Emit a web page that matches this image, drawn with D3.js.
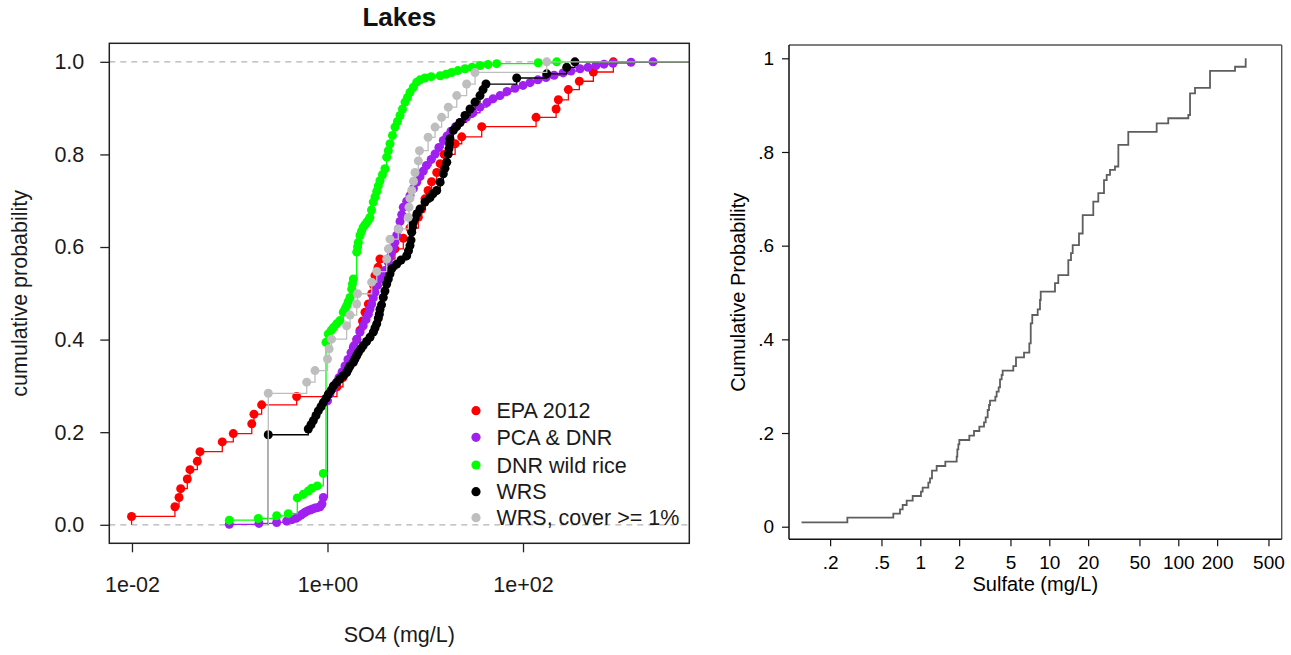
<!DOCTYPE html>
<html>
<head>
<meta charset="utf-8">
<script src="https://cdn.jsdelivr.net/npm/d3@7/dist/d3.min.js"></script>
<style>
  html, body { margin: 0; padding: 0; background: #fff; }
  svg { display: block; }
  text { font-family: "Liberation Sans", Arial, Helvetica, sans-serif; }
</style>
</head>
<body>
<svg id="chart" width="1291" height="655"></svg>
<script>
// ---------------- LEFT PANEL DATA (Lakes, SO4 mg/L, ECDF knots) ----------------
const seriesNames = ["EPA 2012", "PCA & DNR", "DNR wild rice", "WRS", "WRS, cover >= 1%"];
const seriesColors = ["#FF0000", "#A020F0", "#00FF00", "#000000", "#BEBEBE"];

const epaValues = [0.0099,0.0275,0.0303,0.0315,0.0368,0.0392,0.0466,0.0496,0.0839,0.1087,0.168,0.177,0.212,0.484,
  1.25,1.44,1.58,1.70,1.84,2.00,2.15,2.28,2.42,2.62,2.83,2.96,3.06,3.29,3.44,
  4.90,5.96,6.98,8.49,9.20,9.94,10.7,11.6,13.1,14.2,15.6,20.2,23.6,37.8,
  136,218,230,291,377,524,839];
const epaProb = [0.018,0.039,0.059,0.078,0.099,0.119,0.137,0.158,0.179,0.197,0.218,0.239,0.259,0.277,
  0.298,0.318,0.34,0.358,0.383,0.40,0.42,0.44,0.459,0.477,0.499,0.518,0.538,0.556,0.574,
  0.596,0.619,0.641,0.664,0.682,0.704,0.722,0.741,0.761,0.78,0.80,0.823,0.838,0.860,
  0.880,0.898,0.918,0.94,0.958,0.978,1.0];

const pcaValues = [0.099,0.199,0.302,0.382,0.433,0.476,0.503,0.536,0.562,0.589,0.624,0.662,0.702,0.745,0.790,0.838,0.878,0.906,
  1.00,1.06,1.14,1.22,1.31,1.41,1.51,1.62,1.74,1.87,1.99,2.15,2.32,2.48,2.62,2.72,2.83,2.94,3.06,3.25,3.44,3.65,3.87,
  4.19,4.36,4.54,4.71,4.90,5.10,5.30,5.52,5.74,5.96,6.46,6.98,7.55,8.18,8.84,9.55,10.3,11.5,12.6,13.8,15.3,16.7,18.3,
  20.4,22.7,26.4,30.8,36.3,42.8,49.3,58.2,68.6,82.8,100,118,142,172,208,257,310,383,462,558,674,833,1273,2138];
const pcaProb = [0.001,0.003,0.005,0.008,0.011,0.014,0.017,0.021,0.024,0.027,0.030,0.032,0.034,0.036,0.037,0.039,0.045,0.059,
  0.268,0.283,0.295,0.306,0.318,0.33,0.343,0.357,0.372,0.387,0.401,0.416,0.43,0.443,0.455,0.466,0.477,0.49,0.502,0.517,0.531,0.54,0.549,
  0.567,0.578,0.589,0.60,0.61,0.625,0.639,0.655,0.67,0.686,0.699,0.711,0.726,0.74,0.752,0.764,0.776,0.789,0.801,0.815,0.83,0.84,0.85,
  0.86,0.869,0.88,0.89,0.902,0.912,0.92,0.927,0.936,0.943,0.949,0.955,0.961,0.966,0.971,0.976,0.980,0.985,0.988,0.992,0.995,0.997,0.999,1.0];

const riceValues = [0.099,0.196,0.302,0.397,0.491,0.566,0.636,0.689,0.786,0.906,
  0.965,1.02,1.09,1.15,1.24,1.34,1.45,1.51,1.57,1.63,1.70,1.77,1.80,1.84,1.99,2.03,2.07,2.15,2.23,2.32,2.42,2.52,2.62,2.72,
  2.82,2.94,3.06,3.19,3.31,3.44,3.65,3.87,4.03,4.19,4.36,4.62,4.90,5.20,5.52,5.85,6.21,6.58,6.98,7.55,8.18,8.84,9.94,
  11.5,14.2,16.3,18.6,21.6,25.5,30.1,36.3,43.9,53.8,143,221];
const riceProb = [0.010,0.0136,0.0194,0.024,0.058,0.066,0.073,0.079,0.084,0.111,
  0.394,0.412,0.42,0.426,0.434,0.441,0.459,0.466,0.473,0.482,0.491,0.509,0.52,0.531,0.589,0.6,0.61,0.625,0.634,0.643,0.648,0.653,0.658,0.664,
  0.68,0.697,0.708,0.72,0.732,0.743,0.756,0.769,0.794,0.808,0.823,0.841,0.859,0.871,0.884,0.898,0.913,0.923,0.934,0.945,0.956,0.961,0.965,
  0.968,0.970,0.973,0.977,0.981,0.985,0.988,0.992,0.994,0.996,0.998,1.0];

const wrsValues = [0.248,0.636,0.678,0.716,0.763,0.805,0.858,0.906,0.965,1.02,1.09,1.15,1.25,1.34,1.45,1.57,1.63,1.70,1.84,1.91,1.99,
  2.07,2.20,2.32,2.51,2.72,2.94,3.06,3.19,3.31,3.39,3.44,3.57,3.72,3.87,4.03,4.19,4.36,4.54,5.10,5.65,6.46,6.74,6.98,7.15,7.27,
  7.41,7.55,7.86,8.23,8.84,9.94,11.2,12.0,13.1,14.2,15.3,15.9,16.6,17.2,17.5,17.7,17.9,19.4,20.9,22.7,25.5,28.7,32.3,36.3,
  39.0,41.8,86.2,175,280,340];
const wrsProb = [0.1945,0.207,0.216,0.225,0.236,0.246,0.255,0.264,0.273,0.282,0.291,0.30,0.308,0.315,0.322,0.329,0.336,0.343,0.351,0.358,0.365,
  0.372,0.38,0.387,0.396,0.405,0.416,0.425,0.434,0.446,0.455,0.465,0.475,0.491,0.505,0.52,0.531,0.542,0.553,0.563,0.572,0.581,0.592,0.603,0.615,0.632,
  0.643,0.653,0.662,0.672,0.682,0.697,0.707,0.715,0.722,0.74,0.758,0.770,0.783,0.801,0.812,0.823,0.834,0.852,0.86,0.869,0.884,0.898,0.913,0.927,
  0.94,0.952,0.965,0.974,0.988,1.0];

const coverValues = [0.248,0.613,0.745,1.00,1.04,1.10,1.57,1.70,1.99,2.03,2.83,3.19,4.03,4.19,4.36,5.30,6.71,6.82,6.98,7.27,7.58,7.86,
  8.49,8.73,10.7,12.6,14.7,17.2,21.0,26.5,32.3,175];
const coverProb = [0.284,0.308,0.333,0.358,0.38,0.401,0.43,0.453,0.477,0.499,0.524,0.547,0.574,0.596,0.617,0.639,0.664,0.686,0.705,0.722,0.742,0.761,
  0.786,0.808,0.837,0.859,0.880,0.902,0.927,0.952,0.977,1.0];

const leftXTicks = [0.01, 1, 100];
const leftXTickLabels = ["1e-02", "1e+00", "1e+02"];
const leftYTicks = [0, 0.2, 0.4, 0.6, 0.8, 1.0];
const leftYTickLabels = ["0.0", "0.2", "0.4", "0.6", "0.8", "1.0"];

// ---------------- RIGHT PANEL DATA (Sulfate step ECDF) ----------------
const sulfateValues = [0.120,0.272,0.618,0.696,0.730,0.784,0.873,1.012,1.043,1.154,1.189,1.232,1.339,1.563,1.914,1.937,1.972,2.007,
  2.399,2.609,2.869,3.118,3.212,3.329,3.409,3.47,3.817,3.908,4.05,4.149,4.272,4.35,5.26,5.52,6.37,7.0,7.18,7.38,8.13,8.47,8.58,
  11.07,11.74,14.04,14.73,15.18,16.99,18.15,21.93,23.98,26.55,27.86,29.55,32.3,34.3,40.96,68.0,83.6,119.6,123.3,134.8,176.2,275.3,333];
const sulfateProb = [0.0093,0.0193,0.0278,0.0371,0.0463,0.0556,0.0655,0.0748,0.0833,0.094,0.1033,0.1196,0.1296,0.1388,0.1495,0.1652,0.1759,0.1851,
  0.1943,0.2043,0.2136,0.2228,0.2335,0.2491,0.2598,0.2691,0.2776,0.2883,0.2975,0.3146,0.3239,0.3331,0.343,0.3616,0.3715,0.3915,0.434,0.452,0.464,0.484,0.502,
  0.52,0.537,0.569,0.584,0.601,0.626,0.665,0.694,0.712,0.740,0.751,0.762,0.769,0.815,0.843,0.861,0.872,0.879,0.925,0.937,0.973,0.982,1.0];

const rightXTicks = [0.2, 0.5, 1, 2, 5, 10, 20, 50, 100, 200, 500];
const rightXTickLabels = [".2", ".5", "1", "2", "5", "10", "20", "50", "100", "200", "500"];
const rightYTicks = [0, 0.2, 0.4, 0.6, 0.8, 1];
const rightYTickLabels = ["0", ".2", ".4", ".6", ".8", "1"];

// ---------------- DRAWING ----------------
const svg = d3.select("#chart");

// ===== Left panel =====
const L = { left: 109.3, right: 689.3, top: 43.3, bottom: 543.3 };
const xL = d3.scaleLog().domain([Math.pow(10, -2.232), Math.pow(10, 3.701)]).range([L.left, L.right]);
const yL = d3.scaleLinear().domain([-0.04, 1.04]).range([L.bottom, L.top]);

svg.append("defs").append("clipPath").attr("id", "clipL")
  .append("rect").attr("x", L.left).attr("y", L.top)
  .attr("width", L.right - L.left).attr("height", L.bottom - L.top);

const gL = svg.append("g");

// dashed 0/1 reference lines
[0, 1].forEach(v => {
  gL.append("line")
    .attr("x1", L.left).attr("x2", L.right)
    .attr("y1", yL(v)).attr("y2", yL(v))
    .attr("stroke", "#B3B3B3").attr("stroke-width", 1.3)
    .attr("stroke-dasharray", "6,5");
});

const leftSeries = [
  { vals: epaValues, prob: epaProb },
  { vals: pcaValues, prob: pcaProb },
  { vals: riceValues, prob: riceProb },
  { vals: wrsValues, prob: wrsProb },
  { vals: coverValues, prob: coverProb }
];

const stepLine = d3.line().x(d => xL(d[0])).y(d => yL(d[1])).curve(d3.curveStepAfter);
const plotArea = gL.append("g").attr("clip-path", "url(#clipL)");

leftSeries.forEach((s, i) => {
  const pts = s.vals.map((v, k) => [v, s.prob[k]]);
  const linePts = [[pts[0][0], 0]].concat(pts).concat([[xL.domain()[1], pts[pts.length - 1][1]]]);
  plotArea.append("path")
    .attr("d", stepLine(linePts))
    .attr("fill", "none")
    .attr("stroke", seriesColors[i])
    .attr("stroke-width", 1.3);
  plotArea.selectAll(null).data(pts).enter().append("circle")
    .attr("cx", d => xL(d[0])).attr("cy", d => yL(d[1]))
    .attr("r", 4.5).attr("fill", seriesColors[i]);
});

// box
gL.append("rect")
  .attr("x", L.left).attr("y", L.top)
  .attr("width", L.right - L.left).attr("height", L.bottom - L.top)
  .attr("fill", "none").attr("stroke", "#222").attr("stroke-width", 1.5);

// axes
const axL = gL.append("g").attr("transform", `translate(0,${L.bottom})`)
  .call(d3.axisBottom(xL).tickValues(leftXTicks).tickFormat((d, i) => leftXTickLabels[i]).tickSize(9).tickSizeOuter(0));
axL.select(".domain").remove();
axL.selectAll("line").attr("stroke", "#222").attr("stroke-width", 1.3);
axL.selectAll("text").attr("y", 48.7).attr("dy", 0).attr("fill", "#1a1a1a")
  .style("font-size", "21.5px").style("font-family", "'Liberation Sans', Arial, sans-serif");

const ayL = gL.append("g").attr("transform", `translate(${L.left},0)`)
  .call(d3.axisLeft(yL).tickValues(leftYTicks).tickFormat((d, i) => leftYTickLabels[i]).tickSize(9).tickPadding(16).tickSizeOuter(0));
ayL.select(".domain").remove();
ayL.selectAll("line").attr("stroke", "#222").attr("stroke-width", 1.3);
ayL.selectAll("text").attr("fill", "#1a1a1a")
  .style("font-size", "21.5px").style("font-family", "'Liberation Sans', Arial, sans-serif");

// titles
gL.append("text").attr("x", (L.left + L.right) / 2).attr("y", 26)
  .attr("text-anchor", "middle").attr("font-weight", "bold").attr("font-size", 26)
  .attr("fill", "#111").text("Lakes");
gL.append("text").attr("x", (L.left + L.right) / 2).attr("y", 642)
  .attr("text-anchor", "middle").attr("font-size", 21.5).attr("fill", "#1a1a1a").text("SO4 (mg/L)");
gL.append("text").attr("transform", `translate(27,${(L.top + L.bottom) / 2}) rotate(-90)`)
  .attr("text-anchor", "middle").attr("font-size", 21.5).attr("fill", "#1a1a1a").text("cumulative probability");

// legend
const leg = gL.append("g");
const legRows = [410.7, 437.3, 465, 491.7, 517.7];
seriesNames.forEach((name, i) => {
  leg.append("circle").attr("cx", 476).attr("cy", legRows[i]).attr("r", 4.6).attr("fill", seriesColors[i]);
  leg.append("text").attr("x", 496.5).attr("y", legRows[i]).attr("dy", "0.36em")
    .attr("font-size", 21.5).attr("fill", "#1a1a1a").text(name);
});

// ===== Right panel =====
const R = { left: 789, right: 1281.7, top: 45, bottom: 539.3 };
const xR = d3.scaleLog().domain([Math.pow(10, -1.0178), Math.pow(10, 2.8016)]).range([R.left, R.right]);
const yR = d3.scaleLinear().domain([-0.0269, 1.0284]).range([R.bottom, R.top]);
const gR = svg.append("g");

const sPts = sulfateValues.map((v, k) => [v, sulfateProb[k]]);
gR.append("path")
  .attr("d", d3.line().x(d => xR(d[0])).y(d => yR(d[1])).curve(d3.curveStepAfter)(sPts))
  .attr("fill", "none").attr("stroke", "#5e5e5e").attr("stroke-width", 1.8);

// frame: top and right
gR.append("line").attr("x1", R.left).attr("x2", R.right).attr("y1", R.top).attr("y2", R.top)
  .attr("stroke", "#555").attr("stroke-width", 1.4);
gR.append("line").attr("x1", R.right).attr("x2", R.right).attr("y1", R.top).attr("y2", R.bottom)
  .attr("stroke", "#555").attr("stroke-width", 1.4);

const axR = gR.append("g").attr("transform", `translate(0,${R.bottom})`)
  .call(d3.axisBottom(xR).tickValues(rightXTicks).tickFormat((d, i) => rightXTickLabels[i]).tickSize(7).tickSizeOuter(0));
axR.select(".domain").attr("stroke", "#111").attr("stroke-width", 1.5)
  .attr("d", `M${R.left},0H${R.right}`);
axR.selectAll("line").attr("stroke", "#111").attr("stroke-width", 1.2);
axR.selectAll("text").attr("y", 29.7).attr("dy", 0).attr("fill", "#000")
  .style("font-size", "19px").style("font-family", "'Liberation Sans', Arial, sans-serif");

const ayR = gR.append("g").attr("transform", `translate(${R.left},0)`)
  .call(d3.axisLeft(yR).tickValues(rightYTicks).tickFormat((d, i) => rightYTickLabels[i]).tickSize(7).tickPadding(8).tickSizeOuter(0));
ayR.select(".domain").attr("stroke", "#111").attr("stroke-width", 1.5)
  .attr("d", `M0,${R.top}V${R.bottom}`);
ayR.selectAll("line").attr("stroke", "#111").attr("stroke-width", 1.2);
ayR.selectAll("text").attr("fill", "#000")
  .style("font-size", "19px").style("font-family", "'Liberation Sans', Arial, sans-serif");

gR.append("text").attr("x", (R.left + R.right) / 2).attr("y", 591)
  .attr("text-anchor", "middle").attr("font-size", 20).attr("fill", "#000").text("Sulfate (mg/L)");
gR.append("text").attr("transform", `translate(745,${(R.top + R.bottom) / 2}) rotate(-90)`)
  .attr("text-anchor", "middle").attr("font-size", 20).attr("fill", "#000").text("Cumulative Probability");
</script>
</body>
</html>
